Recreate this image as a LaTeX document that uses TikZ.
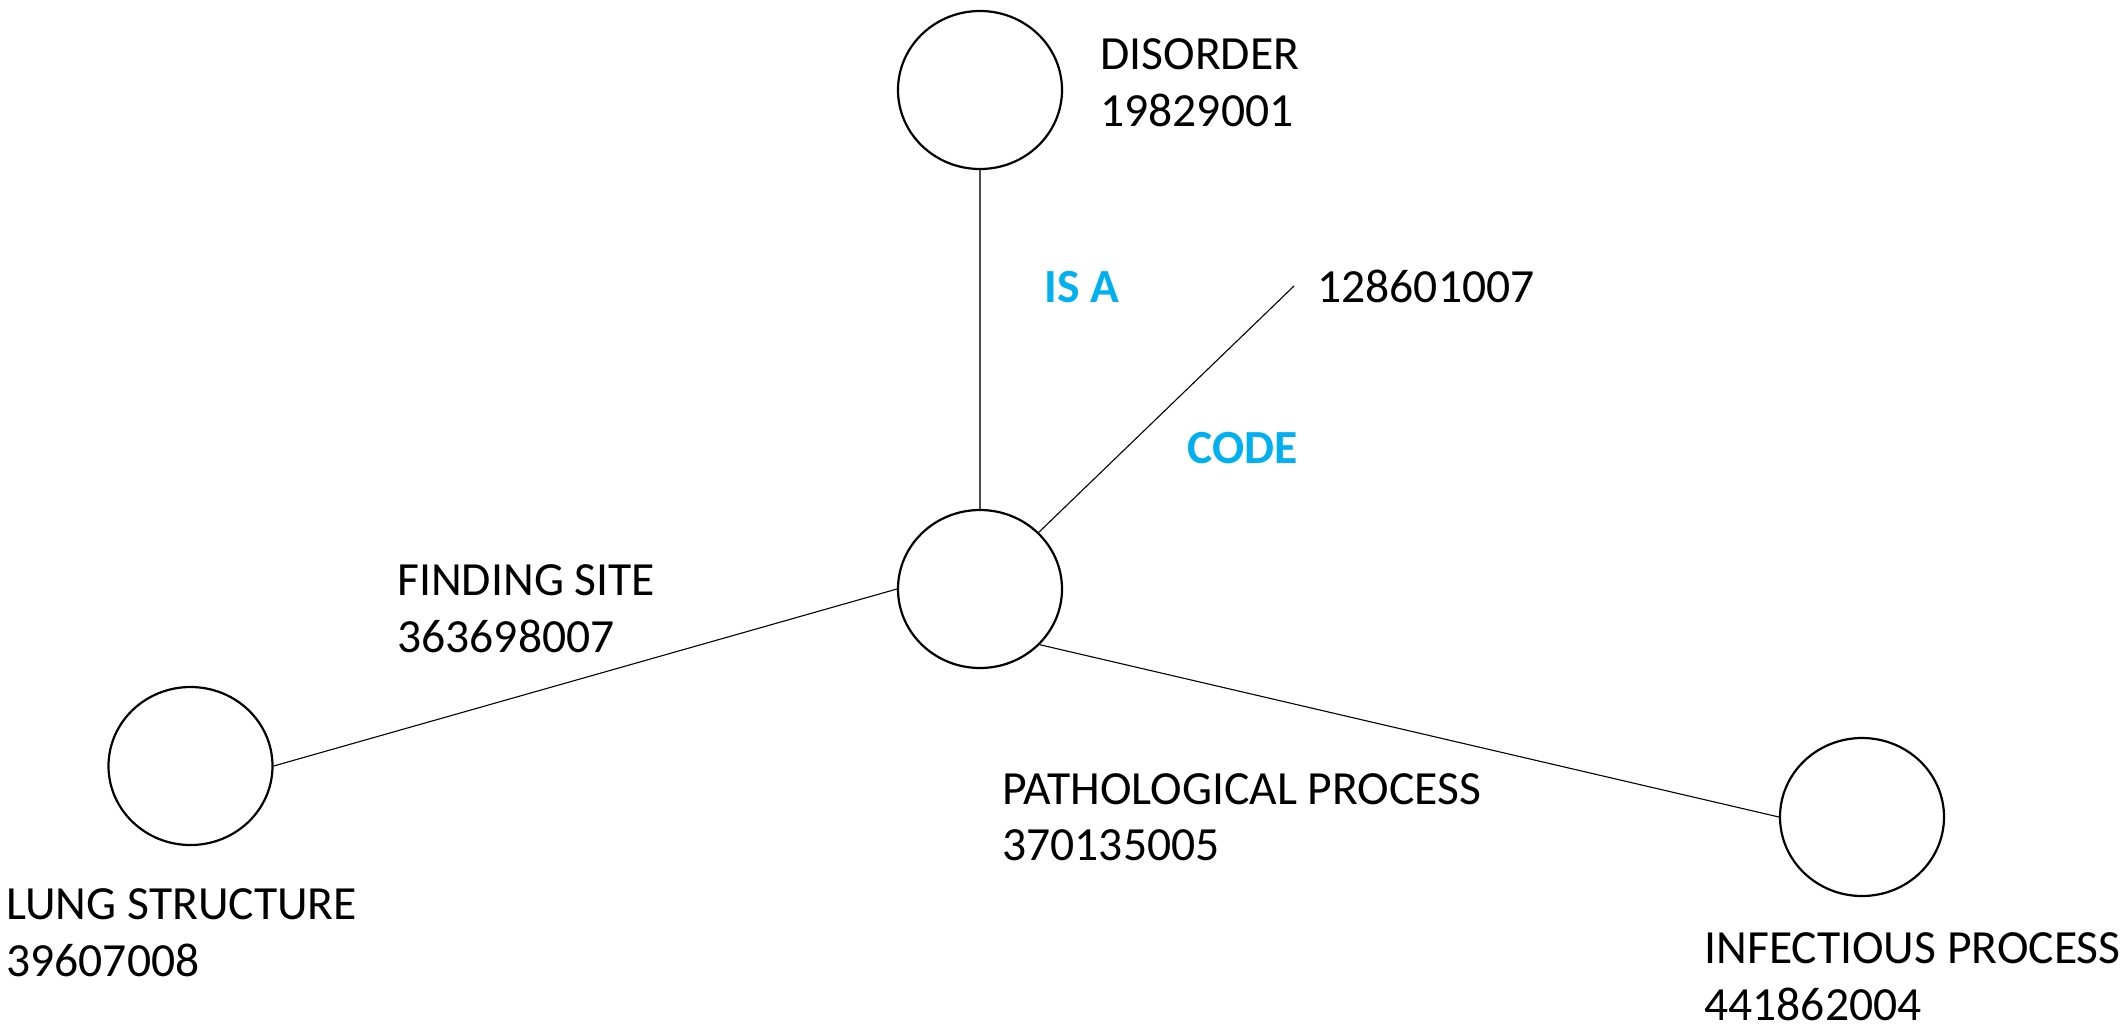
\documentclass[tikz,border=0pt]{standalone}
\usepackage{fontspec}
\setmainfont{Carlito}
\usetikzlibrary{shapes.geometric}
\definecolor{relblue}{HTML}{00B0F0}
\begin{document}
\begin{tikzpicture}[x=0.5pt,y=-0.5pt,
  concept/.style={ellipse, draw, line width=1.1pt, minimum width=82pt, minimum height=79pt, inner sep=0pt},
  lbl/.style={anchor=base west, inner sep=0pt, font=\fontsize{23.8}{28.5}\selectfont},
  rel/.style={anchor=base west, inner sep=0pt, font=\fontsize{23.8}{28.5}\selectfont\bfseries, text=relblue},
  link/.style={line width=0.55pt},
  isalink/.style={line width=1pt, draw=black!70}
]
\useasboundingbox (0,0) rectangle (2125,1023);

\node[concept] (disorder) at (980,90) {};
\node[concept] (focus) at (980,589) {};
\node[concept] (lung) at (190.5,766) {};
\node[concept] (infect) at (1862,817) {};
\coordinate (codeend) at (1294,286);

\draw[isalink] (disorder) -- (focus);
\draw[link] (focus) -- (codeend);
\draw[link] (focus.west) -- (lung.east);
\draw[link] (focus.-43) -- (infect.west);

\node[lbl] (disorderT) at (1100,69) {DISORDER};
\node[lbl] (disorderN) at (1100,126) {19829001};
\node[lbl] (codeN) at (1317,302) {128601007};
\node[rel] (isa) at (1044,302) {IS A};
\node[rel] (code) at (1187,463) {CODE};
\node[lbl] (siteT) at (397,595) {FINDING SITE};
\node[lbl] (siteN) at (397,652) {363698007};
\node[lbl] (lungT) at (6,919) {LUNG STRUCTURE};
\node[lbl] (lungN) at (6,976) {39607008};
\node[lbl] (pathT) at (1002,804) {PATHOLOGICAL PROCESS};
\node[lbl] (pathN) at (1002,860) {370135005};
\node[lbl] (infectT) at (1704,963) {INFECTIOUS PROCESS};
\node[lbl] (infectN) at (1704,1020) {441862004};
\end{tikzpicture}
\end{document}
